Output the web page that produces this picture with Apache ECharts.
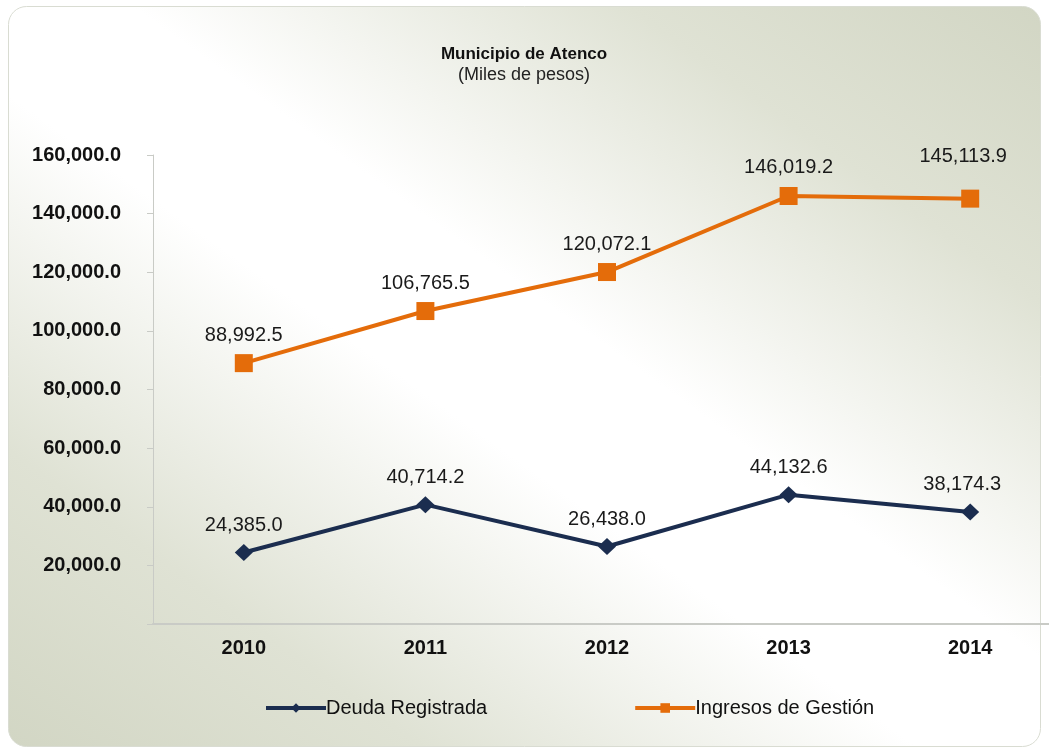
<!DOCTYPE html>
<html>
<head>
<meta charset="utf-8">
<script src="https://cdn.jsdelivr.net/npm/echarts@6/dist/echarts.min.js"></script>
<style>
html,body{margin:0;padding:0;background:#fff;}
#main{width:1049px;height:753px;}
</style>
</head>
<body>
<div id="main"></div>
<script>
const years = ['2010', '2011', '2012', '2013', '2014'];
const deuda = [24385.0, 40714.2, 26438.0, 44132.6, 38174.3];
const ingresos = [88992.5, 106765.5, 120072.1, 146019.2, 145113.9];
const yTicks = [0, 20000, 40000, 60000, 80000, 100000, 120000, 140000, 160000];

const fmt = v => v.toLocaleString('en-US', {minimumFractionDigits: 1, maximumFractionDigits: 1});

const chart = echarts.init(document.getElementById('main'));
const FONT = '"Liberation Sans", Arial, sans-serif';

chart.setOption({
  animation: false,
  graphic: [{
    type: 'rect',
    z: -10,
    shape: {x: 8.5, y: 6.5, width: 1032, height: 740, r: 18},
    style: {
      fill: {
        type: 'linear', global: true, x: 174, y: 864, x2: 874, y2: -112,
        colorStops: [
          {offset: 0, color: '#d2d6c4'},
          {offset: 0.2, color: '#dfe2d4'},
          {offset: 0.44, color: '#ffffff'},
          {offset: 0.56, color: '#ffffff'},
          {offset: 0.8, color: '#dfe2d4'},
          {offset: 1, color: '#d2d6c4'}
        ]
      },
      stroke: '#d9dcd2',
      lineWidth: 1
    }
  }],
  title: {
    text: 'Municipio de Atenco',
    subtext: '(Miles de pesos)',
    left: 519,
    textAlign: 'center',
    top: 41,
    itemGap: 3,
    textStyle: {fontFamily: FONT, fontSize: 17, fontWeight: 'bold', color: '#111'},
    subtextStyle: {fontFamily: FONT, fontSize: 18, color: '#222'}
  },
  legend: {
    left: 259,
    top: 693,
    itemGap: 146,
    itemWidth: 60,
    itemHeight: 12,
    lineStyle: {width: 4},
    textStyle: {fontFamily: FONT, fontSize: 20, color: '#111', padding: [0, 0, 0, -5]},
    data: ['Deuda Registrada', 'Ingresos de Gestión']
  },
  grid: {left: 153, top: 155, width: 908, height: 469, outerBoundsMode: 'none'},
  xAxis: {
    type: 'category',
    data: years,
    boundaryGap: true,
    axisLine: {lineStyle: {color: '#c9cbc6', width: 2}},
    axisTick: {show: false},
    axisLabel: {fontFamily: FONT, fontSize: 20, fontWeight: 'bold', color: '#111', margin: 14}
  },
  yAxis: {
    type: 'value',
    min: yTicks[0],
    max: yTicks[yTicks.length - 1],
    interval: yTicks[1] - yTicks[0],
    axisLine: {show: true, lineStyle: {color: '#c9cbc6', width: 1}},
    axisTick: {show: true, length: 6, lineStyle: {color: '#c9cbc6'}},
    splitLine: {show: false},
    axisLabel: {
      fontFamily: FONT, fontSize: 20, fontWeight: 'bold', color: '#111', margin: 32,
      formatter: v => v === 0 ? '' : fmt(v)
    }
  },
  series: [
    {
      name: 'Deuda Registrada',
      type: 'line',
      data: deuda.map((v, i) => ({value: v, label: {offset: i === 4 ? [-8, 0] : [0, 0]}})),
      symbol: 'diamond',
      symbolSize: [18, 17],
      lineStyle: {color: '#1b2d4f', width: 4},
      itemStyle: {color: '#1b2d4f'},
      label: {
        show: true, position: 'top', distance: 9,
        fontFamily: FONT, fontSize: 20, color: '#1a1a1a',
        formatter: p => fmt(p.value)
      }
    },
    {
      name: 'Ingresos de Gestión',
      type: 'line',
      data: ingresos.map((v, i) => ({value: v, label: {offset: i === 4 ? [-7, -14] : [0, 0]}})),
      symbol: 'rect',
      symbolSize: 18,
      lineStyle: {color: '#e46c0a', width: 4},
      itemStyle: {color: '#e46c0a'},
      label: {
        show: true, position: 'top', distance: 9,
        fontFamily: FONT, fontSize: 20, color: '#1a1a1a',
        formatter: p => fmt(p.value)
      }
    }
  ]
});
</script>
</body>
</html>
